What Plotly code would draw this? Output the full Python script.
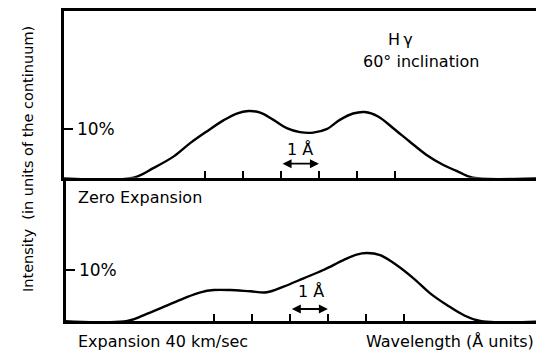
import plotly.graph_objects as go

# Top panel (Hγ, 60° inclination, expansion 40 km/sec): wavelength offset (Å) vs intensity (%)
top_wl = [-6.5, -4.39, -3.86, -3.33, -2.89, -2.46, -2.02, -1.67, -1.36, -1.05, -0.70, -0.35,
          0.0, 0.35, 0.70, 1.05, 1.40, 1.71, 2.06, 2.46, 2.89, 3.33, 3.77, 4.21, 4.56, 6.5]
top_int = [0, 0, 2.0, 4.35, 7.1, 9.45, 11.7, 13.1, 13.6, 13.3, 11.8, 10.1,
           9.3, 9.2, 9.9, 11.8, 13.1, 13.4, 12.5, 10.1, 7.4, 4.7, 2.65, 1.1, 0, 0]

# Bottom panel (zero expansion)
bot_wl = [-6.5, -4.79, -4.35, -3.82, -3.30, -2.86, -2.51, -2.08, -1.55, -1.11, -0.67, -0.14,
          0.38, 0.91, 1.26, 1.53, 1.88, 2.32, 2.76, 3.20, 3.64, 4.08, 4.52, 6.5]
bot_int = [0, 0, 1.18, 2.82, 4.47, 5.66, 6.1, 6.1, 5.86, 5.66, 6.77, 8.42,
           10.06, 12.0, 13.1, 13.4, 13.0, 11.0, 8.42, 5.46, 3.16, 1.18, 0, 0]

tick_wl = [-2.5, -1.5, -0.5, 0.5, 1.5, 2.5]
y_tick = [10]
y_tick_text = ["10%"]

W, H = 536, 351
FONT = "DejaVu Sans"
INK = "black"

# pixel geometry of the two panels
TOP_T, TOP_B, TOP_L = 11, 177.7, 63.6
BOT_B, BOT_L = 321, 65.6
PX_PER_A = 37.9
TOP_C, BOT_C = 300.0, 308.9
TOP_PPU, BOT_PPU = 4.9, 5.07


def px(x):
    return x / W


def py(y):
    return 1 - y / H


fig = go.Figure()
line_style = dict(color=INK, width=2.4, shape="spline", smoothing=1.0)
fig.add_trace(go.Scatter(x=top_wl, y=top_int, mode="lines", line=line_style,
                         xaxis="x", yaxis="y", showlegend=False, hoverinfo="skip"))
fig.add_trace(go.Scatter(x=bot_wl, y=bot_int, mode="lines", line=line_style,
                         xaxis="x2", yaxis="y2", showlegend=False, hoverinfo="skip"))

axis_common = dict(showgrid=False, zeroline=False, showline=True, linecolor=INK, linewidth=2.5,
                   ticks="inside", tickcolor=INK, tickwidth=1.5, fixedrange=True)
ytick_common = dict(tickvals=y_tick, ticktext=y_tick_text, ticklen=10, ticklabelposition="inside",
                    ticklabelstandoff=4, tickfont=dict(size=17, family=FONT, color=INK))

fig.update_layout(
    width=W, height=H,
    margin=dict(l=0, r=0, t=0, b=0),
    paper_bgcolor="white", plot_bgcolor="white",
    font=dict(family=FONT, color=INK, size=13),
    xaxis=dict(domain=[px(TOP_L), 1.0],
               range=[-(TOP_C - TOP_L) / PX_PER_A, (W - TOP_C) / PX_PER_A], anchor="y",
               tickvals=tick_wl, showticklabels=False, ticklen=7, mirror=True, **axis_common),
    yaxis=dict(domain=[py(TOP_B), py(TOP_T)], range=[0, (TOP_B - TOP_T) / TOP_PPU], anchor="x",
               **ytick_common, **axis_common),
    xaxis2=dict(domain=[px(BOT_L), 1.0],
                range=[-(BOT_C - BOT_L) / PX_PER_A, (W - BOT_C) / PX_PER_A], anchor="y2",
                tickvals=tick_wl, showticklabels=False, ticklen=7, **axis_common),
    yaxis2=dict(domain=[py(BOT_B), py(TOP_B)], range=[0, (BOT_B - TOP_B) / BOT_PPU], anchor="x2",
                **ytick_common, **axis_common),
)

ann = []
# 1 Å scale arrows
ann.append(dict(x=0.5, y=2.86, ax=-0.5, ay=2.86, xref="x", yref="y", axref="x", ayref="y",
                showarrow=True, arrowhead=2, arrowside="end+start", arrowsize=1, arrowwidth=1.8,
                arrowcolor=INK, text=""))
ann.append(dict(x=0.5, y=2.37, ax=-0.49, ay=2.37, xref="x2", yref="y2", axref="x2", ayref="y2",
                showarrow=True, arrowhead=2, arrowside="end+start", arrowsize=1, arrowwidth=1.8,
                arrowcolor=INK, text=""))
texts = [
    ("1 Å", 300, 149, 16, "center", 0),
    ("1 Å", 311, 291, 16, "center", 0),
    ("H\u2009γ", 400, 39, 16, "center", 0),
    ("60° inclination", 421, 62, 16, "center", 0),
    ("Zero Expansion", 76, 197, 16, "left", 0),
    ("Expansion 40 km/sec", 76, 341, 16, "left", 0),
    ("Wavelength (Å units)", 536, 341, 16, "right", 0),
    ("Intensity  (in units of the continuum)", 28, 159, 14.5, "center", -90),
]
for t, x, y, s, anc, rot in texts:
    ann.append(dict(text=t, x=px(x), y=py(y), xref="paper", yref="paper", showarrow=False,
                    xanchor=anc, yanchor="middle", textangle=rot,
                    font=dict(size=s, family=FONT, color=INK)))
fig.update_layout(annotations=ann)

fig.write_html("out.html")
